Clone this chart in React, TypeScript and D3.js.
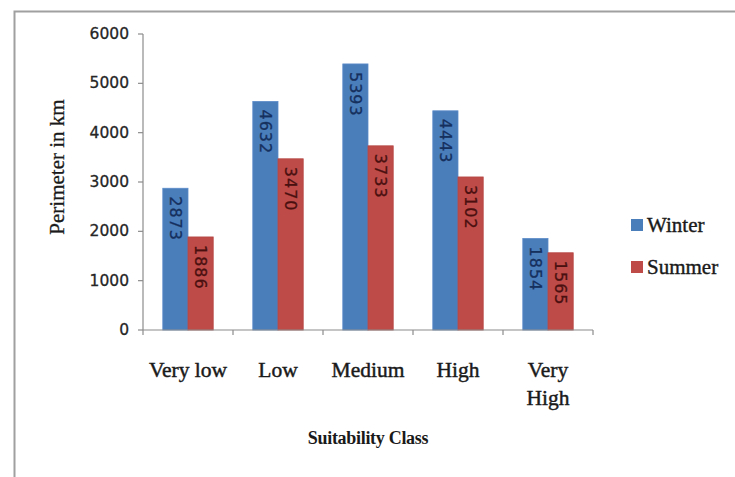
import React from "react";
import * as d3 from "d3";

const categories = ["Very low", "Low", "Medium", "High", "Very High"];
const winter = [2873, 4632, 5393, 4443, 1854];
const summer = [1886, 3470, 3733, 3102, 1565];
const yTicks = [0, 1000, 2000, 3000, 4000, 5000, 6000];
const seriesNames = ["Winter", "Summer"];

const W = 735;
const H = 477;
const plot = { left: 143, right: 593, top: 34, bottom: 330 };
const barColors = ["#4A7EBB", "#BE4B48"];
const labelColors = ["#16305E", "#4A1010"];
const serif = "'Liberation Serif', 'Times New Roman', serif";
const sans = "'DejaVu Sans', sans-serif";
const ink = "#1A1A1A";

function wrap(label: string): string[] {
  return label.length > 8 ? label.split(" ") : [label];
}

export default function App() {
  const x = d3
    .scaleBand<string>()
    .domain(categories)
    .range([plot.left, plot.right])
    .paddingInner(0.44)
    .paddingOuter(0.22);
  const x1 = d3.scaleBand<string>().domain(seriesNames).range([0, x.bandwidth()]);
  const y = d3.scaleLinear().domain([0, 6000]).range([plot.bottom, plot.top]);
  const step = x.step();
  const series = [winter, summer];
  const axisColor = "#8C8C8C";

  return (
    <svg
      width={W}
      height={H}
      style={{ position: "absolute", left: 0, top: 0, background: "#fff" }}
    >
      <rect x={0} y={0} width={W} height={H} fill="#fff" />
      <rect x={14.5} y={11.5} width={760} height={500} fill="none" stroke="#A0A0A0" strokeWidth={2} />

      {/* bars */}
      {series.map((vals, si) =>
        categories.map((c, ci) => {
          const bx = (x(c) as number) + (x1(seriesNames[si]) as number);
          const by = y(vals[ci]);
          return (
            <g key={`${si}-${ci}`}>
              <rect
                x={bx}
                y={by}
                width={x1.bandwidth()}
                height={plot.bottom - by}
                fill={barColors[si]}
                stroke={si === 0 ? "#5B8BC8" : "#B44441"}
                strokeWidth={0.8}
              />
              <text
                transform={`translate(${bx + x1.bandwidth() / 2},${by + 8}) rotate(90)`}
                dominantBaseline="central"
                textAnchor="start"
                fontFamily={sans}
                fontSize={16}
                letterSpacing={1}
                fill={labelColors[si]}
                stroke={labelColors[si]}
                strokeWidth={0.3}
              >
                {vals[ci]}
              </text>
            </g>
          );
        })
      )}

      {/* y axis */}
      <line x1={plot.left} x2={plot.left} y1={plot.top} y2={plot.bottom} stroke={axisColor} strokeWidth={1.2} />
      {yTicks.map((t) => (
        <g key={t}>
          <line x1={plot.left - 5} x2={plot.left} y1={y(t)} y2={y(t)} stroke={axisColor} strokeWidth={1.2} />
          <text
            x={129}
            y={y(t)}
            textAnchor="end"
            dominantBaseline="central"
            fontFamily={sans}
            fontSize={15.5}
            fill="#262626"
            stroke="#262626"
            strokeWidth={0.3}
          >
            {t}
          </text>
        </g>
      ))}

      {/* x axis */}
      <line x1={plot.left} x2={plot.right} y1={plot.bottom} y2={plot.bottom} stroke={axisColor} strokeWidth={1.2} />
      {d3.range(categories.length + 1).map((i) => {
        const tx = plot.left + i * step;
        return (
          <line key={i} x1={tx} x2={tx} y1={plot.bottom} y2={plot.bottom + 5} stroke={axisColor} strokeWidth={1.2} />
        );
      })}
      {categories.map((c) => {
        const lines = wrap(c);
        const cx = (x(c) as number) + x.bandwidth() / 2;
        return (
          <text
            key={c}
            x={cx}
            y={377}
            textAnchor="middle"
            fontFamily={serif}
            fontSize={21.5}
            fill={ink}
            stroke={ink}
            strokeWidth={0.45}
          >
            {lines.map((l, i) => (
              <tspan key={i} x={cx} dy={i === 0 ? 0 : 28}>
                {l}
              </tspan>
            ))}
          </text>
        );
      })}

      {/* axis titles */}
      <text
        x={368}
        y={444}
        textAnchor="middle"
        fontFamily={serif}
        fontSize={18}
        fontWeight="bold"
        letterSpacing={-0.3}
        fill={ink}
      >
        Suitability Class
      </text>
      <text
        transform={`translate(64,167) rotate(-90)`}
        textAnchor="middle"
        fontFamily={serif}
        fontSize={21}
        fill={ink}
        stroke={ink}
        strokeWidth={0.3}
      >
        Perimeter in km
      </text>

      {/* legend */}
      {seriesNames.map((s, i) => (
        <g key={s} transform={`translate(631,${219 + i * 42})`}>
          <rect x={0} y={0} width={12} height={12} fill={barColors[i]} />
          <text x={16} y={13} fontFamily={serif} fontSize={21} fill={ink} stroke={ink} strokeWidth={0.4}>
            {s}
          </text>
        </g>
      ))}
    </svg>
  );
}
